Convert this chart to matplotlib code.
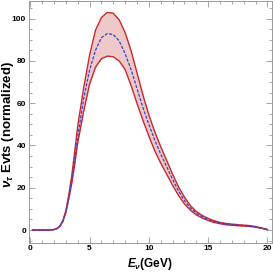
import numpy as np
import matplotlib
matplotlib.use("Agg")
import matplotlib.pyplot as plt
from matplotlib.ticker import MultipleLocator

# energy grid (GeV) and normalized event counts
energy = [0.2, 0.5, 1.0, 1.5, 1.75, 2.0, 2.25, 2.5, 2.75, 3.0, 3.25, 3.5, 3.75,
          4.0, 4.5, 5.0, 5.5, 6.0, 6.5,
          7.0, 7.5, 8.0, 8.5, 9.0, 9.5, 10.0, 10.5, 11.0, 11.5, 12.0, 12.5,
          13.0, 13.5, 14.0, 14.5, 15.0, 15.5, 16.0, 16.5, 17.0, 17.5, 18.0,
          18.5, 19.0, 19.5, 20.0]
central = [0, 0, 0, 0, 0.05, 0.2, 0.7, 1.8, 4.2, 8.5, 15.5, 23.5, 33.5,
           44, 62, 75.5, 85, 91, 93,
           92.5, 89.5, 83.5, 76, 67, 58, 50, 42.5, 36, 30, 24, 18.5,
           14, 10.5, 8, 6.3, 5, 4, 3.3, 2.8, 2.5, 2.3, 2.1,
           1.9, 1.5, 0.9, 0.2]
upper = [0, 0, 0, 0, 0.05, 0.2, 0.75, 1.9, 4.4, 8.9, 16.5, 25.5, 37,
         49, 67, 82.5, 94.5, 100.5, 103,
         102.6, 99.5, 93.5, 85, 74.5, 64, 54.5, 46.5, 39.5, 33, 26.5, 20.5,
         15.6, 11.6, 8.8, 6.9, 5.5, 4.4, 3.6, 3.1, 2.8, 2.55, 2.3,
         2.1, 1.65, 1.0, 0.2]
lower = [0, 0, 0, 0, 0.05, 0.2, 0.65, 1.7, 4.0, 8.1, 14.7, 22, 31,
         41, 56, 69, 77, 81, 82.3,
         82, 80, 76, 68.5, 60, 52, 44.5, 37.5, 31.7, 26.5, 21.2, 16.4,
         12.4, 9.4, 7.2, 5.7, 4.5, 3.6, 3.0, 2.5, 2.25, 2.05, 1.9,
         1.7, 1.35, 0.8, 0.2]

plt.rcParams['font.family'] = ['Liberation Sans', 'DejaVu Sans']
plt.rcParams['mathtext.fontset'] = 'custom'
plt.rcParams['mathtext.it'] = 'Liberation Sans:italic:bold'
plt.rcParams['mathtext.rm'] = 'Liberation Sans:bold'

fig = plt.figure(figsize=(2.73, 2.73), dpi=100)
ax = fig.add_axes([0.105, 0.111, 0.891, 0.887])

ax.fill_between(energy, lower, upper, color='#eec9c9', lw=0)
ax.plot(energy, upper, color='#c8282a', lw=1.0)
ax.plot(energy, lower, color='#c8282a', lw=1.0)
ax.plot(energy, central, color='#3c3cd2', lw=0.9, ls=(0, (2.5, 1.2)))

ax.set_xlim(-0.13, 20.38)
ax.set_ylim(-6, 108.6)

ax.xaxis.set_major_locator(MultipleLocator(5))
ax.xaxis.set_minor_locator(MultipleLocator(1))
ax.yaxis.set_major_locator(MultipleLocator(20))
ax.yaxis.set_minor_locator(MultipleLocator(5))
ax.tick_params(which='both', direction='in', top=True, right=True,
               color='#999999', width=0.6)
ax.tick_params(which='major', length=4, labelsize=6, pad=2)
ax.tick_params(which='minor', length=2)
for lab in ax.get_xticklabels() + ax.get_yticklabels():
    lab.set_fontweight('bold')
for s in ax.spines.values():
    s.set_color('#999999')
    s.set_linewidth(0.7)

# axis labels placed in figure pixels to match the reference
fig.text(150 / 273, 1 - 264 / 273, r'$E_\nu$(GeV)', fontsize=8.5,
         fontweight='bold', ha='center', va='center')
fig.text(8 / 273, 1 - 125 / 273, r'$\nu_\tau$ Evts (normalized)', fontsize=9.5,
         fontweight='bold', ha='center', va='center', rotation=90)

fig.savefig('out.png', dpi=100)
